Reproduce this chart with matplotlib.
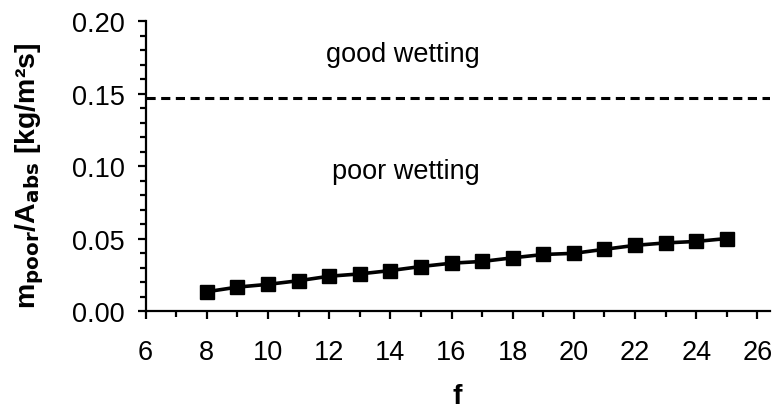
import numpy as np
import matplotlib
matplotlib.use("Agg")
import matplotlib.pyplot as plt
from matplotlib.ticker import MultipleLocator

plt.rcParams['font.family'] = ['Liberation Sans', 'DejaVu Sans']

# wetting flow rate per absorber area vs. f
f_values = [8, 9, 10, 11, 12, 13, 14, 15, 16, 17, 18, 19, 20, 21, 22, 23, 24, 25]
m_poor = [0.0133, 0.0165, 0.0184, 0.0209, 0.0240, 0.0256, 0.0279, 0.0307, 0.0330,
          0.0342, 0.0367, 0.0390, 0.0398, 0.0426, 0.0453, 0.0470, 0.0480, 0.0500]
threshold = 0.147

fig = plt.figure(figsize=(7.79, 4.10), dpi=100)
ax = fig.add_axes([0.187, 0.239, 0.801, 0.707])

ax.plot(f_values, m_poor, color='black', lw=2.6, marker='s', ms=9.5, clip_on=False)
ax.axhline(threshold, color='black', lw=2.2, ls=(0, (3, 1.8)))

ax.text(14.4, 0.177, 'good wetting', fontsize=19.5, ha='center', va='center')
ax.text(14.5, 0.0966, 'poor wetting', fontsize=19.5, ha='center', va='center')

ax.set_xlim(6, 26.4)
ax.set_ylim(0, 0.2)
ax.xaxis.set_major_locator(MultipleLocator(2))
ax.xaxis.set_minor_locator(MultipleLocator(1))
ax.yaxis.set_major_locator(MultipleLocator(0.05))
ax.yaxis.set_minor_locator(MultipleLocator(0.01))
ax.yaxis.set_major_formatter(lambda v, p: f'{v:.2f}')

for side in ['top', 'right']:
    ax.spines[side].set_visible(False)
for side in ['left', 'bottom']:
    ax.spines[side].set_linewidth(1.6)

ax.tick_params(which='major', direction='out', length=6, width=1.6, labelsize=19.5)
ax.tick_params(which='minor', direction='out', length=4, width=1.6)
ax.tick_params(axis='y', which='major', pad=9)
ax.tick_params(axis='x', which='major', pad=14)

ax.set_xlabel('f', fontsize=20.5, fontweight='bold', labelpad=13)
ax.set_ylabel(r'm$_{\mathbf{poor}}$/A$_{\mathbf{abs}}$ [kg/m²s]', fontsize=20.5,
              fontweight='bold')
ax.yaxis.set_label_coords(-0.159, 0.47)

fig.savefig('out.png', dpi=100)
